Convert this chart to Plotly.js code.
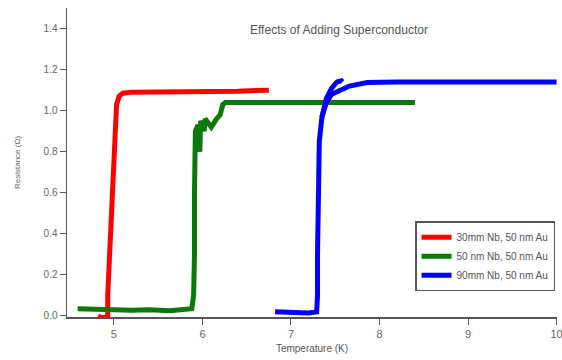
<!DOCTYPE html>
<html>
<head>
<meta charset="utf-8">
<script src="https://cdn.plot.ly/plotly-3.0.1.min.js"></script>
<style>html,body{margin:0;padding:0;background:#fff;}#chart{width:562px;height:360px;}</style>
</head>
<body>
<div id="chart"></div>
<script>
// Series names
const seriesNames = ["30mm Nb, 50 nm Au", "50 nm Nb, 50 nm Au", "90mm Nb, 50 nm Au"];

// Red: 30mm Nb, 50 nm Au
const redT = [4.82, 4.86, 4.90, 4.93, 4.93, 4.95, 4.97, 4.98, 5.00, 5.01, 5.03, 5.06, 5.10, 5.20, 5.60, 6.00, 6.40, 6.75];
const redR = [0.00, -0.008, -0.006, 0.00, 0.10, 0.30, 0.45, 0.60, 0.80, 0.95, 1.03, 1.07, 1.085, 1.09, 1.09, 1.095, 1.095, 1.10];

// Green: 50 nm Nb, 50 nm Au
const greenT = [4.59, 4.80, 5.00, 5.20, 5.40, 5.63, 5.80, 5.88, 5.90, 5.91, 5.91, 5.92, 5.92, 5.95, 5.97, 5.98, 6.02, 6.03, 6.06, 6.10, 6.16, 6.20, 6.23, 6.26, 7.00, 8.00, 8.40];
const greenR = [0.035, 0.03, 0.03, 0.028, 0.03, 0.025, 0.03, 0.035, 0.10, 0.30, 0.60, 0.80, 0.90, 0.93, 0.80, 0.95, 0.90, 0.96, 0.94, 0.92, 0.96, 0.98, 1.03, 1.04, 1.04, 1.04, 1.04];

// Blue: 90mm Nb, 50 nm Au (two sweeps; the hook is the second branch)
const blueT = [6.82, 7.00, 7.20, 7.29, 7.30, 7.30, 7.31, 7.31, 7.32, 7.35, 7.40, 7.46, 7.55, 7.66, 7.86, 8.20, 9.00, 10.00, null, 7.35, 7.40, 7.46, 7.52, 7.57, 7.58];
const blueR = [0.02, 0.015, 0.015, 0.02, 0.10, 0.30, 0.50, 0.70, 0.85, 0.97, 1.04, 1.08, 1.10, 1.12, 1.137, 1.14, 1.14, 1.14, null, 0.97, 1.06, 1.11, 1.14, 1.145, 1.14];

// Axis ticks
const xTicks = [5, 6, 7, 8, 9, 10];
const yTicks = [0.0, 0.2, 0.4, 0.6, 0.8, 1.0, 1.2, 1.4];

const colors = ["#ff0000", "#0a780a", "#0000ff"];
const xs = [redT, greenT, blueT];
const ys = [redR, greenR, blueR];

const traces = xs.map((x, i) => ({
  x: x, y: ys[i], type: "scatter", mode: "lines", name: seriesNames[i],
  line: {color: colors[i], width: 5}, connectgaps: false, cliponaxis: false
}));

const layout = {
  width: 562, height: 360,
  margin: {l: 67, r: 5, t: 8, b: 43},
  paper_bgcolor: "#fff", plot_bgcolor: "#fff",
  font: {family: "Liberation Sans, Arial, sans-serif", color: "#555"},
  showlegend: true,
  legend: {
    x: 0.996, xanchor: "right", y: 0.31, yanchor: "top",
    bgcolor: "#fff", bordercolor: "#555", borderwidth: 1.5,
    font: {size: 10, color: "#555"}, tracegroupgap: 0
  },
  xaxis: {
    range: [4.47, 10.005], tickvals: xTicks, ticktext: xTicks.map(String),
    showgrid: false, zeroline: false, showline: true, linecolor: "#555", linewidth: 1.5,
    ticks: "outside", ticklen: 6, tickcolor: "#555", tickfont: {size: 11, color: "#666"},
    ticklabeloverflow: "allow",
    title: {text: "Temperature (K)", font: {size: 10, color: "#555"}, standoff: 6}
  },
  yaxis: {
    range: [-0.005, 1.5], tickvals: yTicks, ticktext: yTicks.map(v => v.toFixed(1)),
    showgrid: false, zeroline: false, showline: true, linecolor: "#555", linewidth: 1.5,
    ticks: "outside", ticklen: 6, tickcolor: "#555", tickfont: {size: 10, color: "#666"},
    title: {text: "Resistance (Ω)", font: {size: 8, color: "#666"}, standoff: 22}
  },
  annotations: [{
    text: "Effects of Adding Superconductor", xref: "paper", yref: "paper",
    x: 0.556, y: 0.93, xanchor: "center", yanchor: "middle", showarrow: false,
    font: {size: 12, color: "#555"}
  }]
};

Plotly.newPlot("chart", traces, layout, {displayModeBar: false, staticPlot: true});
</script>
</body>
</html>
